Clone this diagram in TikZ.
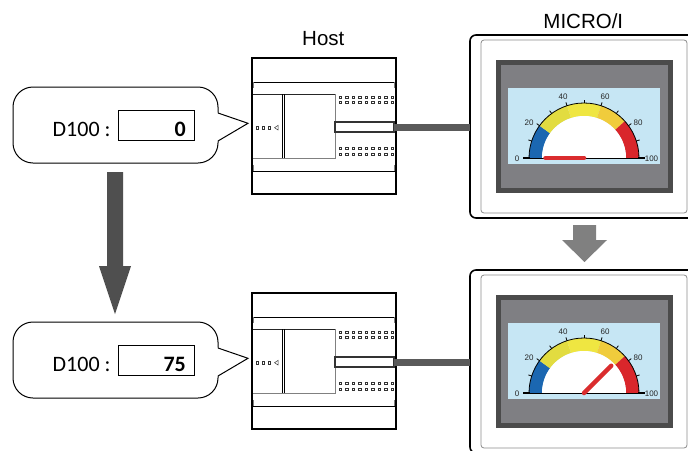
\documentclass[tikz,border=0pt]{standalone}
\usepackage{fontspec}
\setmainfont{Liberation Sans}
\newfontfamily\calib{Carlito}
\usetikzlibrary{calc}

\definecolor{gblue}{HTML}{1B67B1}
\definecolor{gyelA}{HTML}{E2DC40}
\definecolor{gyelB}{HTML}{EFE641}
\definecolor{gorange}{HTML}{F0CC3C}
\definecolor{gred}{HTML}{D9262B}
\definecolor{needlered}{HTML}{DA2C2E}
\definecolor{arrowdark}{HTML}{4F4F4F}
\definecolor{arrowgray}{HTML}{808080}
\definecolor{cablegray}{HTML}{5A5A5A}
\definecolor{bezelgray}{HTML}{4B4B4B}
\definecolor{screengray}{HTML}{7F7F83}
\definecolor{skyblue}{HTML}{C6E6F4}

\tikzset{
  shp/.style={inner sep=0pt, outer sep=0pt},
  hostbody/.style={shp, draw, line width=2pt, minimum width=144pt, minimum height=136pt},
  portbox/.style={shp, draw=black!80, line width=1.3pt, fill=white, minimum width=59pt, minimum height=10pt},
  pin/.style={line width=0.5pt, draw=black!80},
  bubblebody/.style={shp, draw, line width=1pt, rounded corners=20pt, minimum width=205pt, minimum height=76pt, fill=white},
  valbox/.style={shp, draw, line width=1pt, minimum width=76pt, minimum height=30pt},
  bubtext/.style={inner sep=0pt, font=\calib\fontsize{22}{26}\selectfont},
  mframe/.style={shp, draw, line width=1.6pt, rounded corners=6pt, minimum width=230pt, minimum height=183pt, fill=white},
  mpanel/.style={shp, draw=black!45, line width=0.8pt, rounded corners=3pt, minimum width=206pt, minimum height=173pt, fill=white},
  bezel/.style={shp, fill=bezelgray, minimum width=177pt, minimum height=133pt},
  screen/.style={shp, fill=screengray, minimum width=167pt, minimum height=123pt},
  sky/.style={shp, fill=skyblue, minimum width=152pt, minimum height=76pt},
  gaugelbl/.style={inner sep=0pt, text=black!85, font=\fontsize{8}{9}\selectfont},
  needle/.style={needlered, line width=4.5pt, line cap=round},
  cable/.style={cablegray, line width=7pt},
  title/.style={inner sep=0pt, font=\fontsize{20.5}{24}\selectfont, anchor=base},
  % controller unit with terminal rows and a port
  hostunit/.pic={
    \node[hostbody, anchor=north west] (-body) at (252,-58) {};
    \draw[line width=1pt] (252,-82) -- (396,-82) (252,-171) -- (396,-171);
    \draw[gray, line width=0.8pt] (253.8,-82) -- (253.8,-88) (394.2,-82) -- (394.2,-88)
                                  (253.8,-165) -- (253.8,-171) (394.2,-165) -- (394.2,-171);
    \draw[black!85, line width=0.8pt] (253,-94) -- (335,-94);
    \draw[gray, line width=0.8pt] (335,-94) -- (335,-158) -- (253,-158);
    \draw[line width=0.7pt] (282,-94) -- (282,-158) (284.2,-94) -- (284.2,-158);
    \foreach \i in {0,1,2}
      \draw[pin] ({255.8+6*\i},-126.5) rectangle ++(2.4,-2.4);
    \draw[pin] (278,-125.4) -- (274.6,-127.7) -- (278,-130) -- cycle;
    \foreach \r in {-95.8,-100.8,-147.3,-152.8}
      \foreach \i in {0,...,8}
        \draw[pin] ({339+6.5*\i},\r) rectangle ++(2.4,-2.4);
    \node[portbox, anchor=north west] (-port) at (335,-122) {};
  },
  % speech bubble holding the register value
  bubble/.pic={
    \node[bubblebody] (-body) at (115.5,-125) {};
    \coordinate (-tip) at (248,-123.3);
    \fill[white] (217,-112.5) -- (-tip) -- (217,-141.5) -- cycle;
    \draw[line width=1pt] (218,-113) -- (-tip) -- (218,-141);
    \node[valbox] (-val) at (156.5,-125) {};
    \node[bubtext, anchor=base west] (-lbl) at (52.5,-136) {D100 :};
    \node[bubtext, anchor=base east] (-num) at (186,-136) {\bfseries #1};
  },
  % operator panel showing a half-round meter, needle angle as argument
  microunit/.pic={
    \node[mframe] (-frame) at (585,-126.5) {};
    \node[mpanel] (-panel) at (584,-126.5) {};
    \node[bezel] (-bezel) at (584.5,-126.5) {};
    \node[screen] (-screen) at (584.5,-126.5) {};
    \node[sky] (-sky) at (584,-126) {};
    \coordinate (-c) at (584,-158);
    \foreach \a/\b/\col in {180/144/gblue, 144/108/gyelA, 108/72/gyelB, 72/42/gorange, 42/0/gred}
      \fill[\col] ($(584,-158)+(\a:55)$) arc[start angle=\a, end angle=\b, radius=55]
        -- ($(584,-158)+(\b:42)$) arc[start angle=\b, end angle=\a, radius=42] -- cycle;
    \fill[white] (542,-158) arc[start angle=180, end angle=0, radius=42] -- cycle;
    \draw[line width=0.8pt] (529,-158) arc[start angle=180, end angle=0, radius=55];
    \foreach \t [evaluate=\t as \ang using 180-18*\t] in {1,...,9}
      \draw[line width=0.8pt] ($(584,-158)+(\ang:55)$) -- ($(584,-158)+(\ang:58.5)$);
    \draw[line width=0.6pt] (529,-158) -- (639,-158);
    \draw[line width=1.8pt] (523,-158) -- (530,-158) (638,-158) -- (645,-158);
    \node[gaugelbl] (-l0) at (517,-158.5) {0};
    \node[gaugelbl] (-l20) at (529,-123) {20};
    \node[gaugelbl] (-l40) at (563,-97) {40};
    \node[gaugelbl] (-l60) at (605,-97) {60};
    \node[gaugelbl] (-l80) at (638,-123) {80};
    \node[gaugelbl] (-l100) at (651.5,-158.5) {100};
    \draw[needle] (584,-158) -- ++(#1:38.5);
  }
}

\begin{document}
\begin{tikzpicture}[x=1pt, y=1pt]
\useasboundingbox (0,0) rectangle (688,-450);
\clip (0,0) rectangle (688,-450);
\fill[white] (0,0) rectangle (688,-450);

% titles
\node[title] (hosttitle) at (323.3,-45.7) {Host};
\node[title] (microtitle) at (583.3,-28.3) {MICRO/I};

% before: value 0
\pic (b1) {bubble=0};
\pic (h1) {hostunit};
\pic (m1) {microunit=180};

% after: value 75
\pic (b2) at (0,-235) {bubble=75};
\pic (h2) at (0,-235) {hostunit};
\pic (m2) at (0,-235) {microunit=45};

% links between controller and panel
\draw[cable] (h1-port.east) -- (h1-port.east -| m1-frame.west);
\draw[cable] (h2-port.east) -- (h2-port.east -| m2-frame.west);

% value change arrow
\fill[arrowdark] (107,-172) -- (123,-172) -- (123,-266) -- (131,-266) -- (115,-314)
  -- (99,-266) -- (107,-266) -- cycle;

% screen update arrow
\fill[arrowgray] (573,-225) -- (596,-225) -- (596,-240) -- (607,-240) -- (584.5,-262)
  -- (562,-240) -- (573,-240) -- cycle;
\end{tikzpicture}
\end{document}
